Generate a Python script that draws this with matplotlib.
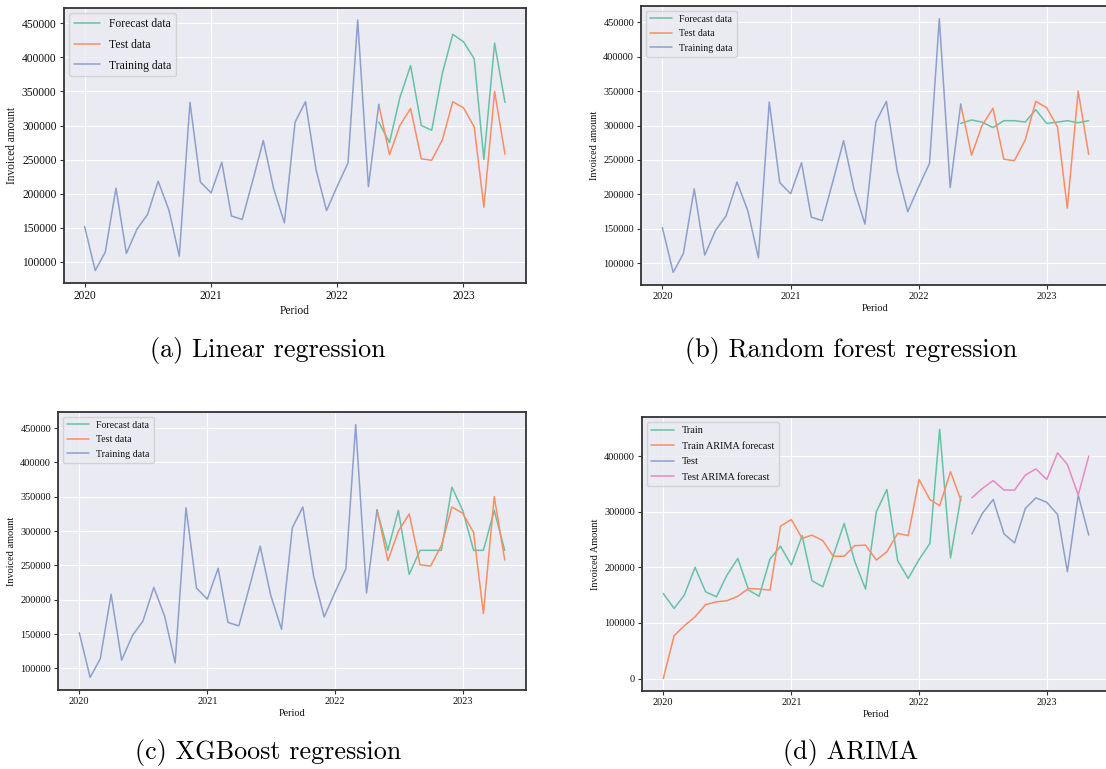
import numpy as np
import pandas as pd
import matplotlib
matplotlib.use("Agg")
import matplotlib.pyplot as plt
import matplotlib.dates as mdates
import seaborn as sns

sns.set_style("darkgrid")
plt.rcParams['font.family'] = ['Liberation Serif', 'DejaVu Serif']
plt.rcParams['text.color'] = '#111111'
plt.rcParams['axes.labelcolor'] = '#111111'
plt.rcParams['xtick.color'] = '#111111'
plt.rcParams['ytick.color'] = '#111111'

# monthly periods
train_dates = pd.date_range("2020-01-01", "2022-05-01", freq="MS")
test_dates = pd.date_range("2022-05-01", "2023-05-01", freq="MS")
arima_test_dates = pd.date_range("2022-06-01", "2023-05-01", freq="MS")

training = [152000, 87000, 114000, 208000, 112000, 148000, 169000, 218000, 176000, 108000,
            334000, 217000, 201000, 246000, 167000, 162000, 218000, 278000, 207000, 157000,
            305000, 335000, 234000, 175000, 211000, 245000, 455000, 210000, 331000]
test = [331000, 257000, 300000, 325000, 251000, 249000, 279000, 335000, 326000, 298000,
        180000, 350000, 258000]

lr_forecast = [305000, 275000, 341000, 388000, 300000, 293000, 377000, 434000, 423000,
               398000, 250000, 421000, 334000]
rf_forecast = [303000, 308000, 305000, 297000, 307000, 307000, 305000, 323000, 303000,
               305000, 307000, 304000, 307000]
xgb_forecast = [330000, 272000, 330000, 237000, 272000, 272000, 272000, 364000, 330000,
                272000, 272000, 330000, 272000]

arima_train = [153000, 126000, 150000, 200000, 156000, 147000, 186000, 216000, 159000, 148000,
               215000, 238000, 204000, 257000, 176000, 165000, 221000, 279000, 211000, 161000,
               300000, 340000, 212000, 180000, 214000, 243000, 448000, 217000, 328000]
arima_train_fc = [0, 77000, 95000, 111000, 133000, 138000, 140000, 148000, 162000, 161000,
                  159000, 274000, 286000, 252000, 258000, 248000, 220000, 220000, 239000, 240000,
                  213000, 228000, 261000, 257000, 358000, 322000, 311000, 372000, 320000]
arima_test = [260000, 297000, 322000, 260000, 244000, 306000, 325000, 317000, 295000,
              192000, 330000, 258000]
arima_test_fc = [325000, 342000, 356000, 339000, 339000, 366000, 377000, 358000, 406000,
                 385000, 330000, 400000]

pal = sns.color_palette("Set2")
W, H = 1106, 769
fig = plt.figure(figsize=(W / 100, H / 100), dpi=100)


def make_ax(l, r, t, b):
    return fig.add_axes([l / W, 1 - b / H, (r - l) / W, (b - t) / H])


def style(ax, fs, ylabel="Invoiced amount"):
    for s in ax.spines.values():
        s.set_visible(True)
        s.set_color("#333333")
        s.set_linewidth(1.3)
    ax.xaxis.set_major_locator(mdates.YearLocator())
    ax.xaxis.set_major_formatter(mdates.DateFormatter("%Y"))
    ax.tick_params(axis="both", labelsize=fs, length=3, width=0.8, color="#333333",
                   pad=2, bottom=True, left=True)
    ax.set_xlabel("Period", fontsize=fs, labelpad=2)
    ax.set_ylabel(ylabel, fontsize=fs, labelpad=3)


lw = 1.1
panels = [
    ((63.5, 526, 7.5, 283), lr_forecast, 8.3, 8.4, 0.75),
    ((641, 1110, 6, 285), rf_forecast, 7.4, 7.1, 0.55),
    ((58, 526, 412, 690), xgb_forecast, 7.4, 7.1, 0.55),
]
for box, fc, fs, lfs, lsp in panels:
    ax = make_ax(*box)
    ax.plot(test_dates, fc, color=pal[0], lw=lw, label="Forecast data")
    ax.plot(test_dates, test, color=pal[1], lw=lw, label="Test data")
    ax.plot(train_dates, training, color=pal[2], lw=lw, label="Training data")
    style(ax, fs)
    ax.legend(loc="upper left", fontsize=lfs, handlelength=2.2, borderaxespad=0.5,
              labelspacing=lsp)

ax = make_ax(642, 1110, 417, 691)
ax.plot(train_dates, arima_train, color=pal[0], lw=lw, label="Train")
ax.plot(train_dates, arima_train_fc, color=pal[1], lw=lw, label="Train ARIMA forecast")
ax.plot(arima_test_dates, arima_test, color=pal[2], lw=lw, label="Test")
ax.plot(arima_test_dates, arima_test_fc, color=pal[3], lw=lw, label="Test ARIMA forecast")
style(ax, 7.4, "Invoiced Amount")
ax.yaxis.set_major_locator(matplotlib.ticker.MultipleLocator(100000))
ax.legend(loc="upper left", fontsize=7.4, handlelength=2.2, borderaxespad=0.5,
          labelspacing=0.6)

# captions
cap = dict(fontfamily="cmr10", fontsize=18.8, ha="center", va="center", color="black")
fig.text(268 / W, 1 - 350 / H, "(a) Linear regression", **cap)
fig.text(851 / W, 1 - 350 / H, "(b) Random forest regression", **cap)
fig.text(268 / W, 1 - 753 / H, "(c) XGBoost regression", **cap)
fig.text(851 / W, 1 - 753 / H, "(d) ARIMA", **cap)

fig.savefig("out.png", dpi=100)
